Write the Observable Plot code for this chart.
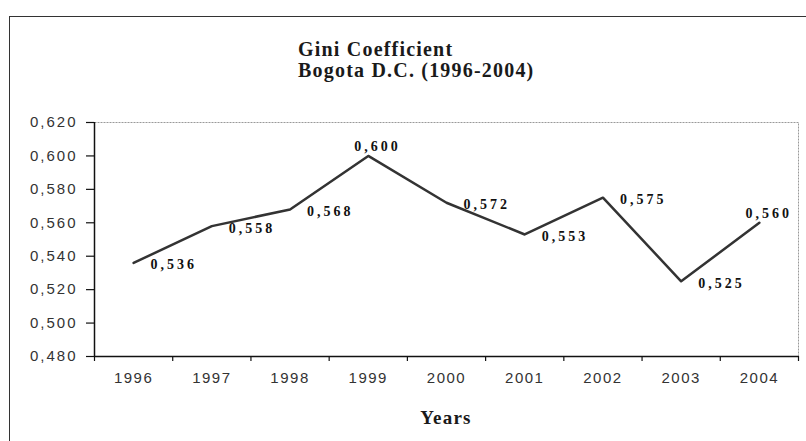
<!DOCTYPE html>
<html>
<head>
<meta charset="utf-8">
<script src="https://cdn.jsdelivr.net/npm/d3@7"></script>
<script src="https://cdn.jsdelivr.net/npm/@observablehq/plot@0.6"></script>
<style>
  html, body { margin: 0; padding: 0; background: #fff; }
  #wrap { position: relative; width: 806px; height: 441px; overflow: hidden; background: #fff; }
  #frame { position: absolute; left: 9px; top: 16px; width: 820px; height: 460px; border: 1.5px solid #333; box-sizing: border-box; }
  #title { position: absolute; left: 298px; top: 39px; font-family: "Liberation Serif", serif; font-weight: bold; font-size: 20px; line-height: 21px; color: #1a1a1a; letter-spacing: 1.2px; white-space: nowrap; }
  #xlabel { position: absolute; left: 0; width: 892px; top: 407px; text-align: center; font-family: "Liberation Serif", serif; font-weight: bold; font-size: 19px; color: #1a1a1a; letter-spacing: 1.2px; }
  #chart { position: absolute; left: 0; top: 0; }
  svg g[aria-label="text"] text { letter-spacing: 3px; }
  svg g[aria-label="y-axis tick label"] text { letter-spacing: 2px; }
  svg g[aria-label="x-axis tick label"] text { letter-spacing: 1.5px; }
</style>
</head>
<body>
<div id="wrap">
  <div id="frame"></div>
  <div id="chart"></div>
  <div id="title">Gini Coefficient<br>Bogota D.C. (1996-2004)</div>
  <div id="xlabel">Years</div>
</div>
<script>
const years = [1996, 1997, 1998, 1999, 2000, 2001, 2002, 2003, 2004];
const gini = [0.536, 0.558, 0.568, 0.600, 0.572, 0.553, 0.575, 0.525, 0.560];
const yTicks = [0.48, 0.50, 0.52, 0.54, 0.56, 0.58, 0.60, 0.62];
const labelsAbove = [1999, 2004];

const data = years.map((y, i) => ({year: y, gini: gini[i]}));
const boundaries = [years[0] - 0.5, ...years.map(y => y + 0.5)];
const fmt = v => d3.format(".3f")(v).replace(".", ",");

const chart = Plot.plot({
  width: 806,
  height: 441,
  marginLeft: 94,
  marginRight: 8,
  marginTop: 122,
  marginBottom: 85,
  style: {fontFamily: "Liberation Sans, Arial, sans-serif", color: "#333", background: "transparent"},
  x: {domain: [boundaries[0], boundaries[boundaries.length - 1]]},
  y: {domain: [yTicks[0], yTicks[yTicks.length - 1]]},
  marks: [
    Plot.frame({stroke: "#999", strokeWidth: 1, strokeDasharray: "2,1"}),
    Plot.axisY({ticks: yTicks, tickSize: 8, tickPadding: 9, tickFormat: fmt, fontSize: 15, label: null, stroke: "#111", strokeWidth: 1.2}),
    Plot.axisX({ticks: years, tickSize: 0, tickPadding: 16, tickFormat: d => String(d), fontSize: 15, label: null}),
    Plot.axisX({ticks: boundaries, tickSize: 5, tickFormat: () => "", label: null, stroke: "#111", strokeWidth: 1.2}),
    Plot.ruleX([boundaries[0]], {stroke: "#111", strokeWidth: 1.5}),
    Plot.ruleY([yTicks[0]], {stroke: "#111", strokeWidth: 1.5}),
    Plot.line(data, {x: "year", y: "gini", stroke: "#333", strokeWidth: 2.5}),
    Plot.text(data.filter(d => !labelsAbove.includes(d.year)), {
      x: "year", y: "gini", text: d => fmt(d.gini), dx: 17, dy: 2, textAnchor: "start",
      fontFamily: "Liberation Serif, serif", fontWeight: "bold", fontSize: 14, fill: "#111"
    }),
    Plot.text(data.filter(d => labelsAbove.includes(d.year)), {
      x: "year", y: "gini", text: d => fmt(d.gini), dx: -14, dy: -9, textAnchor: "start",
      fontFamily: "Liberation Serif, serif", fontWeight: "bold", fontSize: 14, fill: "#111"
    })
  ]
});
document.getElementById("chart").appendChild(chart);
</script>
</body>
</html>
